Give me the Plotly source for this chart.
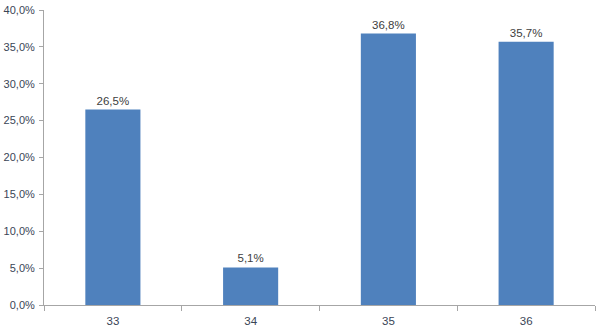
import plotly.graph_objects as go

categories = ["33", "34", "35", "36"]
values = [26.5, 5.1, 36.8, 35.7]
labels = ["26,5%", "5,1%", "36,8%", "35,7%"]
y_ticks = [0, 5, 10, 15, 20, 25, 30, 35, 40]
y_tick_text = ["0,0%", "5,0%", "10,0%", "15,0%", "20,0%", "25,0%", "30,0%", "35,0%", "40,0%"]

fig = go.Figure(go.Bar(
    x=categories, y=values, text=labels, textposition="outside",
    textfont=dict(family="Liberation Sans, Arial", size=11.5, color="#404040"),
    marker=dict(color="#4F81BD", line=dict(width=0)),
    width=0.4, cliponaxis=False,
))

fig.update_layout(
    width=600, height=328,
    margin=dict(l=44, r=5, t=10, b=23),
    plot_bgcolor="white", paper_bgcolor="white",
    showlegend=False,
    font=dict(family="Liberation Sans, Arial", size=11, color="#3A4556"),
)
fig.update_xaxes(
    type="category", showline=True, linecolor="#A6A6A6", linewidth=1,
    ticks="outside", tickson="boundaries", ticklen=5, tickcolor="#A6A6A6",
    showgrid=False, tickfont=dict(size=11.5, color="#3A4556"),
    ticklabelstandoff=5, automargin=False,
)
fig.update_yaxes(
    range=[0, 40], tickvals=y_ticks, ticktext=y_tick_text,
    showline=True, linecolor="#A6A6A6", linewidth=1,
    ticks="outside", ticklen=4, tickcolor="#A6A6A6",
    showgrid=False, zeroline=False, tickfont=dict(size=11, color="#3A4556"),
    ticklabelstandoff=2, automargin=False,
)

fig.write_html("out.html")
